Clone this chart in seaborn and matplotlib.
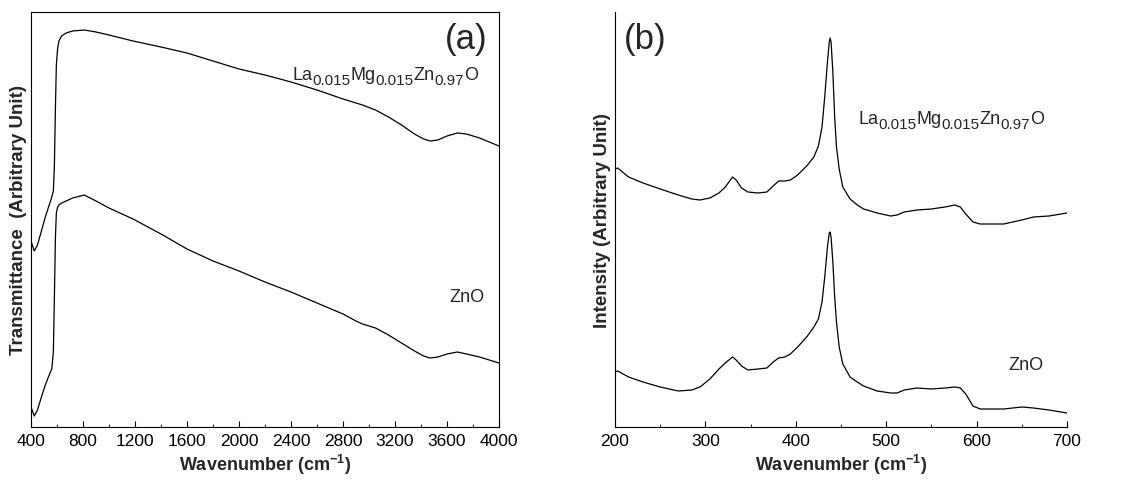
import pandas as pd
import matplotlib.pyplot as plt
import seaborn as sns
from matplotlib.ticker import MultipleLocator

# ==========================
# Data (y in arbitrary units)
# ==========================
# (a) FTIR transmittance
ftir_wn = [400, 425, 450, 480, 510, 540, 560, 572, 580, 588, 595, 605, 615, 635, 670,
           720, 810, 900, 1000, 1185, 1400, 1600, 1800, 2000, 2200, 2400, 2600, 2800,
           2900, 2950, 3050, 3150, 3250, 3350, 3420, 3470, 3530, 3600, 3680, 3750,
           3850, 4000]
ftir_lamgzno = [186, 176, 182, 196, 210, 222, 230, 236, 262, 320, 362, 379, 386, 391, 394,
                396, 397, 395, 392, 386, 380, 374, 366, 358, 352, 345, 337, 328,
                324, 322, 317, 310, 302, 293, 288, 286, 287, 291, 294, 293,
                289, 281]
ftir_zno = [20, 11, 17, 30, 42, 52, 58, 75, 130, 190, 214, 220, 222, 224, 226,
            229, 232, 226, 219, 208, 193, 178, 166, 156, 145, 135, 124, 113,
            106, 103, 99, 92, 84, 76, 71, 69, 70, 73, 75, 73,
            70, 64]

# (b) Raman spectra
raman_wn = [200, 203, 215, 231, 250, 270, 285, 294, 305, 315, 322, 330, 334, 340, 347,
            358, 368, 375, 381, 388, 394, 402, 412, 420, 425, 429, 432, 435, 437, 438,
            439, 441, 443, 445, 448, 452, 460, 468, 475, 490, 505, 512, 520, 534, 550,
            565, 576, 582, 588, 596, 604, 630, 650, 663, 680, 700]
raman_lamgzno = [258, 259, 250, 244, 238, 232, 228, 227, 229, 234, 240, 250, 247, 239, 235,
                 234, 235, 241, 246, 246, 247, 252, 261, 270, 281, 300, 330, 365, 385, 389,
                 385, 355, 310, 280, 258, 240, 228, 222, 218, 214, 211, 212, 215, 217, 218,
                 220, 222, 220, 213, 205, 203, 203, 207, 210, 211, 214]
raman_zno = [55, 56, 50, 45, 40, 36, 37, 40, 48, 58, 64, 70, 67, 61, 57,
             58, 59, 65, 69, 70, 73, 80, 90, 100, 108, 125, 150, 180, 194, 195,
             190, 165, 130, 105, 80, 63, 50, 45, 41, 36, 34, 34, 37, 39, 38,
             39, 40, 39, 33, 21, 18, 18, 20, 19, 17, 14]

# formula pieces: (text, is_subscript)
sample_parts = [("La", False), ("0.015", True), ("Mg", False), ("0.015", True),
                ("Zn", False), ("0.97", True), ("O", False)]

sns.set_style("ticks")
plt.rcParams["font.family"] = ["Liberation Sans", "DejaVu Sans"]
plt.rcParams["mathtext.fontset"] = "custom"
plt.rcParams["mathtext.rm"] = "Liberation Sans"
plt.rcParams["mathtext.default"] = "regular"

MAIN_FS = 13
SUB_FS = 11


def draw_formula(ax, x, y, parts):
    # chain pieces one after another, subscripts dropped a little
    prev = ax.text(x, y, parts[0][0], fontsize=MAIN_FS, va="bottom", ha="left")
    prev_sub = parts[0][1]
    for txt, sub in parts[1:]:
        dy = 0
        if sub and not prev_sub:
            dy = -3.0
        elif prev_sub and not sub:
            dy = 3.0
        prev = ax.annotate(txt, xy=(1, 0), xycoords=prev, xytext=(0, dy),
                           textcoords="offset points", va="bottom", ha="left",
                           fontsize=SUB_FS if sub else MAIN_FS)
        prev_sub = sub


fig = plt.figure(figsize=(11.42, 4.81), dpi=100)
ax1 = fig.add_axes([31 / 1142, 53 / 481, 468 / 1142, 415 / 481])
ax2 = fig.add_axes([615 / 1142, 53 / 481, 452 / 1142, 415 / 481])

df_a = pd.DataFrame({"wn": ftir_wn, "top": ftir_lamgzno, "bottom": ftir_zno})
df_b = pd.DataFrame({"wn": raman_wn, "top": raman_lamgzno, "bottom": raman_zno})

for ax, df in [(ax1, df_a), (ax2, df_b)]:
    sns.lineplot(data=df, x="wn", y="top", color="black", lw=0.9, ax=ax)
    sns.lineplot(data=df, x="wn", y="bottom", color="black", lw=0.9, ax=ax)
    ax.set_ylim(0, 415)
    ax.set_yticks([])
    ax.tick_params(axis="x", direction="in", labelsize=12.5, length=4, width=0.8,
                   colors="black", pad=4)
    ax.tick_params(axis="x", which="minor", direction="in", length=2.5, width=0.8)
    ax.set_xlabel(r"Wavenumber (cm$^{-1}$)", fontsize=13, fontweight="bold", labelpad=3)
    for s in ax.spines.values():
        s.set_linewidth(0.8)
        s.set_color("black")

# ==========================
# (a) FTIR
# ==========================
ax1.set_xlim(400, 4000)
ax1.xaxis.set_major_locator(MultipleLocator(400))
ax1.xaxis.set_minor_locator(MultipleLocator(200))
ax1.set_ylabel("Transmittance  (Arbitrary Unit)", fontsize=13.5, fontweight="bold", labelpad=3)
draw_formula(ax1, 2410, 344, sample_parts)
ax1.text(3620, 122, "ZnO", fontsize=MAIN_FS, va="bottom", ha="left")
ax1.text(0.975, 0.975, "(a)", transform=ax1.transAxes, fontsize=25, ha="right", va="top")

# ==========================
# (b) Raman
# ==========================
ax2.set_xlim(200, 700)
ax2.xaxis.set_major_locator(MultipleLocator(100))
ax2.xaxis.set_minor_locator(MultipleLocator(50))
ax2.set_ylabel("Intensity (Arbitrary Unit)", fontsize=13.5, fontweight="bold", labelpad=3)
ax2.spines["top"].set_visible(False)
ax2.spines["right"].set_visible(False)
draw_formula(ax2, 469, 300, sample_parts)
ax2.text(635, 54, "ZnO", fontsize=MAIN_FS, va="bottom", ha="left")
ax2.text(0.02, 0.975, "(b)", transform=ax2.transAxes, fontsize=25, ha="left", va="top")

plt.savefig("out.png", dpi=100)
